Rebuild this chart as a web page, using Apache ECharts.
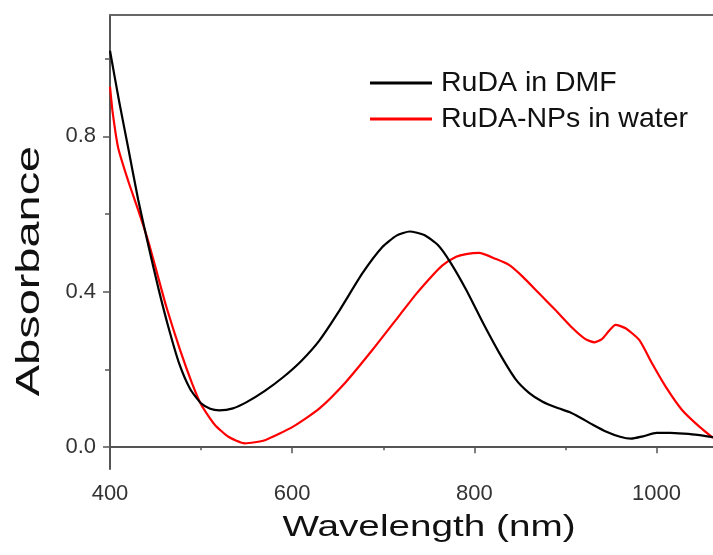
<!DOCTYPE html>
<html>
<head>
<meta charset="utf-8">
<script src="https://cdn.jsdelivr.net/npm/echarts@6/dist/echarts.min.js"></script>
<style>html,body{margin:0;padding:0;background:#fff}#c{width:713px;height:555px}</style>
</head>
<body>
<div id="c"></div>
<script>
// ---- data ----
const seriesNames = ['RuDA in DMF', 'RuDA-NPs in water'];
const dmfWavelength = [400,410,420,431,442,453,464,476,488,500,510,520,535,550,570,590,610,630,652,677,699,715,729,745,760,773,791,809,827,845,860,875,890,905,915,930,945,960,972,985,1000,1015,1030,1045,1062];
const dmfAbs =        [1.02,0.89,0.77,0.636,0.52,0.41,0.31,0.215,0.15,0.113,0.099,0.095,0.1,0.116,0.145,0.18,0.222,0.275,0.352,0.447,0.515,0.545,0.555,0.546,0.52,0.478,0.405,0.322,0.244,0.176,0.14,0.117,0.102,0.09,0.078,0.058,0.04,0.027,0.022,0.028,0.037,0.037,0.035,0.032,0.026];
const npWavelength = [400,403,409,420,431,442,452,462,477,490,500,515,530,548,570,601,630,659,688,718,736,754,765,780,791,805,824,838,853,871,889,908,922,932,940,948,955,966,981,995,1010,1028,1047,1062];
const npAbs =        [0.928,0.86,0.77,0.685,0.61,0.53,0.445,0.36,0.25,0.165,0.11,0.058,0.027,0.01,0.018,0.053,0.1,0.168,0.25,0.34,0.394,0.442,0.468,0.49,0.497,0.5,0.484,0.469,0.439,0.396,0.353,0.306,0.278,0.27,0.278,0.3,0.315,0.306,0.276,0.216,0.156,0.096,0.053,0.024];
const xMajorTicks = [400, 600, 800, 1000];
const xMinorTicks = [500, 700, 900];
const yMajorTicks = [0, 0.4, 0.8];
const yMinorTicks = [0.2, 0.6, 1.0];
const xTitle = 'Wavelength (nm)';
const yTitle = 'Absorbance';

const X_MIN = 400, X_MAX = 1062, Y_MIN = -0.056, Y_MAX = 1.112;
const FONT = 'Liberation Sans, Arial, sans-serif';
const AXIS_COLOR = '#555';

function pairs(xs, ys) { return xs.map((x, i) => [x, ys[i]]); }

const chart = echarts.init(document.getElementById('c'), null, {renderer: 'canvas'});
chart.setOption({
  animation: false,
  backgroundColor: '#fff',
  grid: {left: 110, right: 0, top: 15, bottom: 86, containLabel: false},
  xAxis: [
    {
      type: 'value', min: X_MIN, max: X_MAX, position: 'bottom',
      axisLine: {show: true, lineStyle: {color: AXIS_COLOR, width: 2}},
      axisTick: {show: true, length: 6, lineStyle: {color: AXIS_COLOR, width: 1.5}, customValues: xMajorTicks},
      axisLabel: {show: true, customValues: xMajorTicks, fontSize: 22, color: '#333', fontFamily: FONT, margin: 14,
                  formatter: v => String(v)},
      splitLine: {show: false}
    },
    {
      type: 'value', min: X_MIN, max: X_MAX, position: 'bottom',
      axisLine: {show: false},
      axisTick: {show: true, length: 3, lineStyle: {color: AXIS_COLOR, width: 1.5}, customValues: xMinorTicks},
      axisLabel: {show: false},
      splitLine: {show: false}
    },
    {
      type: 'value', min: X_MIN, max: X_MAX, position: 'top',
      axisLine: {show: true, lineStyle: {color: '#666', width: 2}},
      axisTick: {show: false}, axisLabel: {show: false}, splitLine: {show: false}
    }
  ],
  yAxis: [
    {
      type: 'value', min: Y_MIN, max: Y_MAX, position: 'left',
      axisLine: {show: true, lineStyle: {color: AXIS_COLOR, width: 2}},
      axisTick: {show: true, length: 7, lineStyle: {color: AXIS_COLOR, width: 1.5}, customValues: yMajorTicks},
      axisLabel: {show: true, customValues: yMajorTicks, fontSize: 22, color: '#333', fontFamily: FONT, margin: 14,
                  formatter: v => v.toFixed(1)},
      splitLine: {show: false}
    },
    {
      type: 'value', min: Y_MIN, max: Y_MAX, position: 'left',
      axisLine: {show: false},
      axisTick: {show: true, length: 5, lineStyle: {color: AXIS_COLOR, width: 1.5}, customValues: yMinorTicks},
      axisLabel: {show: false},
      splitLine: {show: false}
    }
  ],
  legend: {
    orient: 'vertical', left: 370, top: 65, padding: 0,
    icon: 'rect', itemWidth: 62, itemHeight: 3, itemGap: 0,
    textStyle: {fontSize: 28.5, lineHeight: 36, color: '#111', fontFamily: FONT, padding: [0, 0, 0, 4]},
    data: seriesNames
  },
  series: [
    {
      name: seriesNames[0], type: 'line', xAxisIndex: 0, yAxisIndex: 0,
      data: pairs(dmfWavelength, dmfAbs), symbol: 'none', showSymbol: false, smooth: 0.2,
      lineStyle: {color: '#000', width: 2.2}, itemStyle: {color: '#000'}, z: 3
    },
    {
      name: seriesNames[1], type: 'line', xAxisIndex: 0, yAxisIndex: 0,
      data: pairs(npWavelength, npAbs), symbol: 'none', showSymbol: false, smooth: 0.2,
      lineStyle: {color: '#f00', width: 2.2}, itemStyle: {color: '#f00'}, z: 2
    }
  ],
  graphic: [
    {
      type: 'text', x: 429, y: 528, scaleX: 1.29,
      style: {text: xTitle, font: '30px ' + FONT, fill: '#111',
              textAlign: 'center', textVerticalAlign: 'middle', align: 'center', verticalAlign: 'middle'}
    },
    {
      type: 'text', x: 30, y: 271, rotation: Math.PI / 2, scaleX: 1.38,
      style: {text: yTitle, font: '34px ' + FONT, fill: '#111',
              textAlign: 'center', textVerticalAlign: 'middle', align: 'center', verticalAlign: 'middle'}
    }
  ]
});
</script>
</body>
</html>
